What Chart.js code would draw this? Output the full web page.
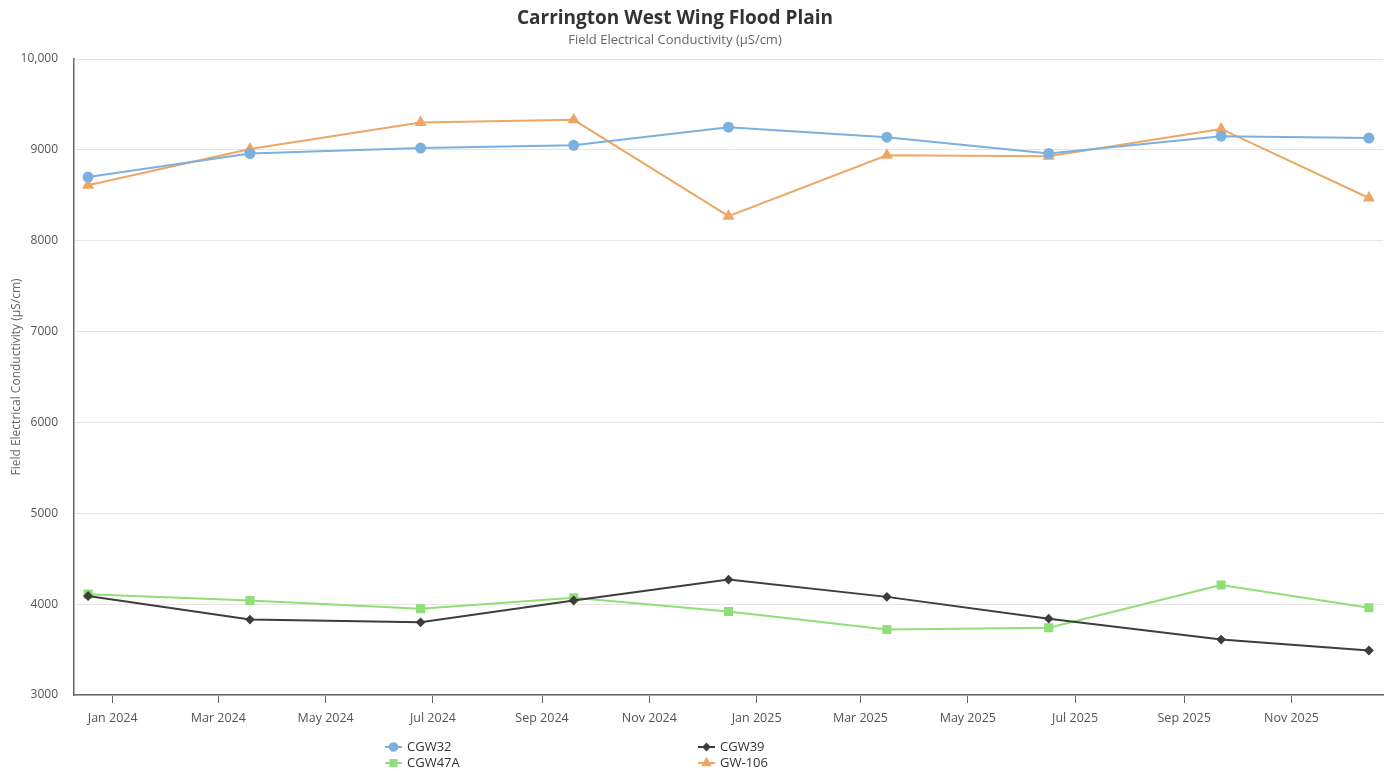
<!DOCTYPE html>
<html>
<head>
<meta charset="utf-8">
<title>Carrington West Wing Flood Plain</title>
<script src="https://cdn.jsdelivr.net/npm/chart.js@4.4.1/dist/chart.umd.min.js"></script>
<style>
  html, body { margin: 0; padding: 0; background: #ffffff; }
  #wrap { position: relative; width: 1391px; height: 771px; }
</style>
</head>
<body>
<div id="wrap"><canvas id="chart"></canvas></div>
<script>
// Sampling dates and field EC readings (µS/cm) per bore
const sampleDates = ['2023-12-18', '2024-03-19', '2024-06-24', '2024-09-19', '2024-12-16',
                     '2025-03-16', '2025-06-16', '2025-09-22', '2025-12-15'];
const cgw32  = [8700, 8960, 9020, 9050, 9250, 9140, 8960, 9150, 9130];
const cgw39  = [4090, 3830, 3800, 4040, 4270, 4080, 3840, 3610, 3490];
const cgw47a = [4110, 4040, 3950, 4070, 3920, 3720, 3740, 4210, 3960];
const gw106  = [8610, 9010, 9300, 9330, 8270, 8940, 8930, 9230, 8470];

// Axis ticks
const tickMonths = ['2024-01', '2024-03', '2024-05', '2024-07', '2024-09', '2024-11',
                    '2025-01', '2025-03', '2025-05', '2025-07', '2025-09', '2025-11'];
const axisStart = '2023-12-10';
const axisEnd = '2025-12-23';
const monthNames = ['Jan', 'Feb', 'Mar', 'Apr', 'May', 'Jun', 'Jul', 'Aug', 'Sep', 'Oct', 'Nov', 'Dec'];

const EPOCH = Date.UTC(2024, 0, 1);
function toDay(iso) {
  const p = iso.split('-').map(Number);
  return (Date.UTC(p[0], p[1] - 1, p[2] || 1) - EPOCH) / 86400000;
}
function dayLabel(day) {
  const d = new Date(EPOCH + day * 86400000);
  return monthNames[d.getUTCMonth()] + ' ' + d.getUTCFullYear();
}
function series(values) {
  return values.map((v, i) => ({ x: toDay(sampleDates[i]), y: v }));
}

const FONT = '"Open Sans", "Noto Sans", sans-serif';
const Y_TITLE = 'Field Electrical Conductivity (µS/cm)';

const seriesDefs = [
  { label: 'CGW32',  data: cgw32,  color: '#7cb0de', style: 'circle',  radius: 4.5 },
  { label: 'CGW39',  data: cgw39,  color: '#3d3d3d', style: 'rectRot', radius: 3.5 },
  { label: 'CGW47A', data: cgw47a, color: '#8fdf78', style: 'rect',    radius: 5 },
  { label: 'GW-106', data: gw106,  color: '#eda764', style: 'triangle', radius: 5 }
];

// Title, subtitle and rotated y-axis caption
const headerPlugin = {
  id: 'header',
  afterDraw(chart) {
    const ctx = chart.ctx;
    const area = chart.chartArea;
    ctx.save();
    ctx.textAlign = 'center';
    ctx.textBaseline = 'middle';
    ctx.fillStyle = '#333333';
    ctx.font = 'bold 19px ' + FONT;
    ctx.fillText('Carrington West Wing Flood Plain', 675, 19);
    ctx.fillStyle = '#666666';
    ctx.font = '13px ' + FONT;
    ctx.fillText('Field Electrical Conductivity (µS/cm)', 675, 40);

    ctx.translate(17, (area.top + area.bottom) / 2);
    ctx.rotate(-Math.PI / 2);
    ctx.font = '12px ' + FONT;
    ctx.fillStyle = '#666666';
    ctx.fillText(Y_TITLE, 0, 0);
    ctx.restore();
  }
};

// Two-column legend under the axis
const legendPlugin = {
  id: 'gridLegend',
  afterDraw(chart) {
    const ctx = chart.ctx;
    const cols = [385, 698];
    const rows = [747, 763];
    ctx.save();
    ctx.font = '13px ' + FONT;
    ctx.textBaseline = 'middle';
    chart.data.datasets.forEach((ds, k) => {
      const x = cols[k % 2];
      const y = rows[Math.floor(k / 2)];
      ctx.strokeStyle = ds.borderColor;
      ctx.fillStyle = ds.borderColor;
      ctx.lineWidth = 2;
      ctx.beginPath();
      ctx.moveTo(x, y);
      ctx.lineTo(x + 17, y);
      ctx.stroke();
      Chart.helpers.drawPoint(ctx, {
        pointStyle: ds.pointStyle,
        radius: ds.pointRadius * 0.85,
        rotation: 0,
        borderWidth: 1
      }, x + 8.5, y);
      ctx.fillStyle = '#333333';
      ctx.textAlign = 'left';
      ctx.fillText(ds.label, x + 22, y);
    });
    ctx.restore();
  }
};

new Chart(document.getElementById('chart'), {
  type: 'line',
  data: {
    datasets: seriesDefs.map(s => ({
      label: s.label,
      data: series(s.data),
      borderColor: s.color,
      backgroundColor: s.color,
      pointBackgroundColor: s.color,
      pointBorderColor: s.color,
      pointStyle: s.style,
      pointRadius: s.radius,
      pointHoverRadius: s.radius,
      borderWidth: 2,
      tension: 0,
      fill: false
    }))
  },
  options: {
    responsive: true,
    maintainAspectRatio: false,
    animation: false,
    layout: { padding: { top: 59, right: 8, bottom: 37, left: 0 } },
    plugins: {
      legend: { display: false },
      title: { display: false },
      tooltip: { enabled: false }
    },
    scales: {
      x: {
        type: 'linear',
        min: toDay(axisStart),
        max: toDay(axisEnd),
        afterBuildTicks(scale) {
          scale.ticks = tickMonths.map(m => ({ value: toDay(m + '-01') }));
        },
        ticks: {
          autoSkip: false,
          maxRotation: 0,
          padding: 8,
          color: '#555555',
          font: { family: FONT, size: 12.5 },
          callback: (v) => dayLabel(v)
        },
        grid: {
          drawOnChartArea: false,
          drawTicks: true,
          tickLength: 8,
          color: '#666666'
        },
        border: { display: true, color: '#666666', width: 1.5 }
      },
      y: {
        min: 3000,
        max: 10000,
        afterFit(scale) { scale.width = 74; },
        ticks: {
          stepSize: 1000,
          padding: 16,
          color: '#555555',
          font: { family: FONT, size: 12 },
          callback: (v) => v >= 10000 ? v.toLocaleString('en-US') : String(v)
        },
        grid: { color: '#e6e6e6', drawTicks: false },
        border: { display: true, color: '#666666', width: 1.5 }
      }
    }
  },
  plugins: [headerPlugin, legendPlugin]
});
</script>
</body>
</html>
